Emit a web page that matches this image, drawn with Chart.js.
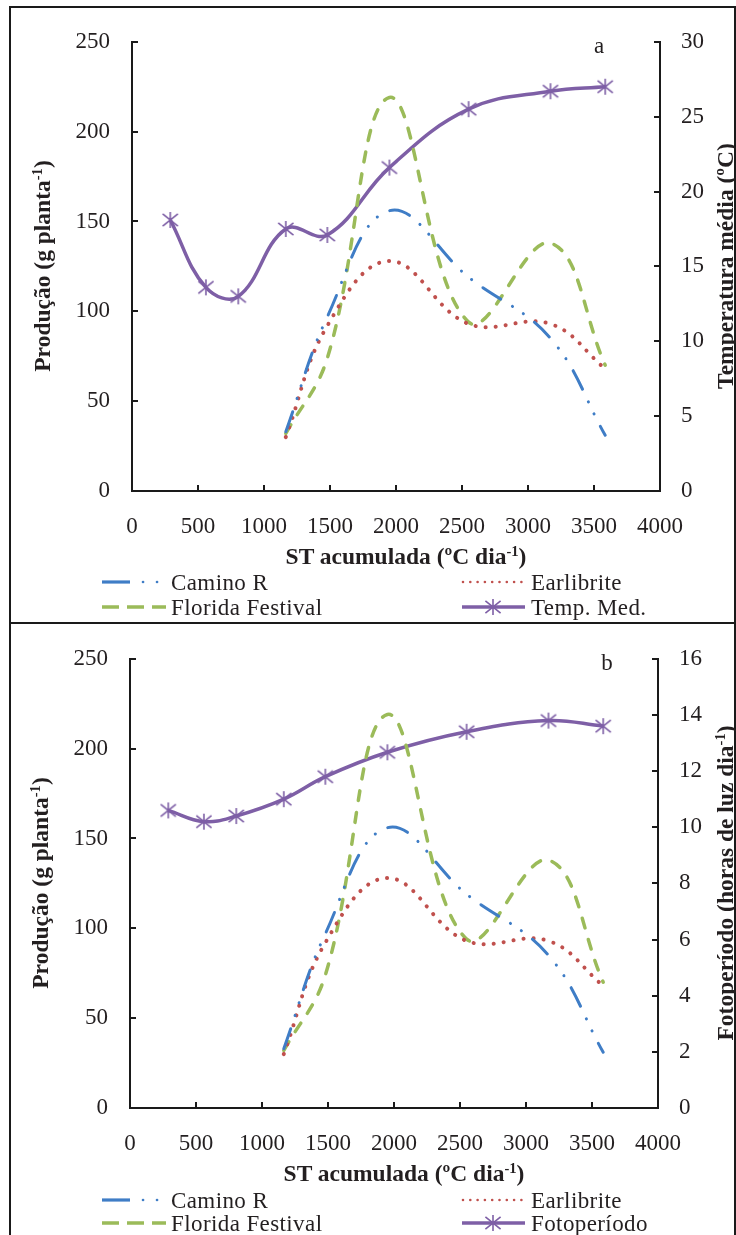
<!DOCTYPE html>
<html><head><meta charset="utf-8">
<script src="https://cdn.jsdelivr.net/npm/chart.js@4.4.1/dist/chart.umd.min.js"></script>
<style>
html,body{margin:0;padding:0;background:#fff;}
#page{position:relative;width:736px;height:1235px;overflow:hidden;background:#fff;font-family:"Liberation Serif","Times New Roman",serif;color:#231f20;}
.frame{position:absolute;border:2px solid #1a1a1a;box-sizing:border-box;}
canvas.ch{position:absolute;left:0;}
.t{position:absolute;white-space:nowrap;line-height:1;}
.b{font-weight:bold;font-size:23.5px;}
.rot{transform:translate(-50%,-50%) rotate(-90deg);}
.ctr{transform:translate(-50%,-50%);}
.lt{font-size:23px;}
sup{font-size:0.62em;vertical-align:0.55em;line-height:0;}
.leg{position:absolute;font-size:23px;letter-spacing:0.4px;line-height:1;white-space:nowrap;transform:translateY(-50%);}
svg.ls{position:absolute;left:0;top:0;overflow:visible;}
</style></head>
<body>
<div id="page">
  <div class="frame" style="left:9px;top:6px;width:727px;height:618px;"></div>
  <div class="frame" style="left:9px;top:622px;width:727px;height:700px;"></div>
  <canvas id="cA" class="ch" width="736" height="622" style="top:0px;"></canvas>
  <canvas id="cB" class="ch" width="736" height="618" style="top:617px;"></canvas>
</div>
<script>
// ---- data ----
const xTickStep = 500;
const tempX = [290, 560, 805, 1165, 1480, 1950, 2550, 3170, 3585];
const tempMed = [18.1, 13.6, 13.0, 17.5, 17.1, 21.6, 25.5, 26.7, 27.0];
const fotoperiodo = [10.6, 10.2, 10.4, 11.0, 11.8, 12.67, 13.4, 13.8, 13.6];
const prodX = [1165, 1480, 1950, 2550, 3170, 3585];
const caminoR = [33, 97, 156, 119, 85, 31];
const earlibrite = [30, 92, 128, 93, 93, 68];
const floridaFestival = [32, 74, 219, 94, 138, 70];
const seriesNames = ['Camino R', 'Earlibrite', 'Florida Festival'];

const BLUE = '#3F7DC6', RED = '#C0504D', GREEN = '#9BBB59', PURPLE = '#7E5FA6';
const INK = '#231f20', AXIS = '#1a1a1a';
const FONT = 'Liberation Serif';

function pts(xs, ys){ return xs.map((x,i)=>({x:x, y:ys[i]})); }

function makeStar(color, size, lw){
  const c = document.createElement('canvas');
  c.width = size; c.height = size;
  const g = c.getContext('2d');
  g.strokeStyle = color; g.lineWidth = lw;
  const m = size/2, r = size/2 - 1;
  g.beginPath();
  g.moveTo(m, m-r); g.lineTo(m, m+r);
  const dx = r*0.95, dy = r*0.78;
  g.moveTo(m-dx, m-dy); g.lineTo(m+dx, m+dy);
  g.moveTo(m-dx, m+dy); g.lineTo(m+dx, m-dy);
  g.stroke();
  return c;
}
const star = makeStar(PURPLE, 18, 1.6);

function makeChart(canvas, cfg){
  const tickFont = {family: FONT, size: 23};
  const plain = v => String(v);
  const axisCommon = (extra) => Object.assign({
    grid:{drawOnChartArea:false, tickLength:-6, color:AXIS, lineWidth:2},
    border:{display:true, color:AXIS, width:2}
  }, extra);
  return new Chart(canvas, {
    type:'line',
    data:{datasets:[
      {label:seriesNames[0], data:pts(prodX, caminoR), borderColor:BLUE, borderWidth:3,
       borderDash:[21,14,0.1,13,0.1,14], borderCapStyle:'round', pointRadius:0, tension:0.4, yAxisID:'y', fill:false},
      {label:seriesNames[1], data:pts(prodX, earlibrite), borderColor:RED, borderWidth:4,
       borderDash:[0.1,10], borderCapStyle:'round', pointRadius:0, tension:0.4, yAxisID:'y', fill:false},
      {label:seriesNames[2], data:pts(prodX, floridaFestival), borderColor:GREEN, borderWidth:3.5,
       borderDash:[10,12], borderCapStyle:'round', pointRadius:0, tension:0.4, yAxisID:'y', fill:false},
      {label:cfg.secName, data:pts(tempX, cfg.secValues), borderColor:PURPLE, borderWidth:3.5,
       pointStyle:star, pointRadius:9, pointBorderColor:PURPLE, tension:0.4, yAxisID:'y1', fill:false}
    ]},
    options:{
      responsive:false, animation:false, devicePixelRatio:1, events:[],
      layout:{padding:{top:41, left:0, right:0, bottom:0}},
      plugins:{legend:{display:false}, tooltip:{enabled:false}},
      scales:{
        x: axisCommon({type:'linear', min:0, max:4000,
           ticks:{stepSize:xTickStep, font:tickFont, color:INK, padding:28, maxRotation:0, callback:plain},
           afterFit:s=>{ s.height = cfg.xHeight; }}),
        y: axisCommon({position:'left', min:0, max:250,
           ticks:{stepSize:50, font:tickFont, color:INK, padding:28, callback:plain},
           afterFit:s=>{ s.width = cfg.leftW; }}),
        y1: axisCommon({position:'right', min:0, max:cfg.rightMax,
           ticks:{stepSize:cfg.rightStep, font:tickFont, color:INK, padding:27, callback:plain},
           afterFit:s=>{ s.width = cfg.rightW; }})
      }
    }
  });
}

makeChart(document.getElementById('cA'), {secName:'Temp. Med.', secValues:tempMed, rightMax:30, rightStep:5,
  leftW:132, rightW:76, xHeight:131});
makeChart(document.getElementById('cB'), {secName:'Fotoperíodo', secValues:fotoperiodo, rightMax:16, rightStep:2,
  leftW:130, rightW:78, xHeight:127});

// ---- text overlays ----
const page = document.getElementById('page');
function addText(html, x, y, cls){
  const d = document.createElement('div');
  d.className = 't ' + cls;
  d.style.left = x + 'px'; d.style.top = y + 'px';
  d.innerHTML = html;
  page.appendChild(d);
}
function addLeg(text, x, y){
  const d = document.createElement('div');
  d.className = 'leg';
  d.style.left = x + 'px'; d.style.top = y + 'px';
  d.textContent = text;
  page.appendChild(d);
}
const NS = 'http://www.w3.org/2000/svg';
const svg = document.createElementNS(NS, 'svg');
svg.setAttribute('class','ls'); svg.setAttribute('width','736'); svg.setAttribute('height','1235');
page.appendChild(svg);
function ln(x1,y1,x2,y2,attrs){
  const l = document.createElementNS(NS,'line');
  l.setAttribute('x1',x1); l.setAttribute('y1',y1); l.setAttribute('x2',x2); l.setAttribute('y2',y2);
  for (const k in attrs) l.setAttribute(k, attrs[k]);
  svg.appendChild(l);
}
function legendStar(cx, cy){
  const r = 8, dx = r*0.95, dy = r*0.78, a = {stroke:PURPLE,'stroke-width':1.6};
  ln(cx, cy-r, cx, cy+r, a);
  ln(cx-dx, cy-dy, cx+dx, cy+dy, a);
  ln(cx-dx, cy+dy, cx+dx, cy-dy, a);
}

function panelText(dy, dx, secName, rightTitle, letter, r1, r2){
  addText('ST acumulada (ºC dia<sup>-1</sup>)', 406+dx, 557+dy, 'b ctr');
  addText('Produção (g planta<sup>-1</sup>)', 43+dx, 266+dy, 'b rot');
  addText(rightTitle, 726, 266+dy, 'b rot');
  addText(letter, 599+dx+ (letter==='b'?10:0), 45+dy, 'lt ctr');
  // legend samples
  ln(102, r1, 130, r1, {stroke:BLUE,'stroke-width':3.2});
  ln(143, r1, 143.1, r1, {stroke:BLUE,'stroke-width':2.6,'stroke-linecap':'round'});
  ln(157, r1, 157.1, r1, {stroke:BLUE,'stroke-width':2.6,'stroke-linecap':'round'});
  ln(102, r2, 166, r2, {stroke:GREEN,'stroke-width':3.5,'stroke-dasharray':'17 8'});
  ln(463, r1, 522, r1, {stroke:RED,'stroke-width':2.6,'stroke-linecap':'round','stroke-dasharray':'0 7.3'});
  ln(462, r2, 525, r2, {stroke:PURPLE,'stroke-width':3.5});
  legendStar(493, r2);
  addLeg(seriesNames[0], 171, r1);
  addLeg(seriesNames[2], 171, r2);
  addLeg(seriesNames[1], 531, r1);
  addLeg(secName, 531, r2);
}
panelText(0, 0, 'Temp. Med.', 'Temperatura média (ºC)', 'a', 582, 607);
panelText(617, -2, 'Fotoperíodo', 'Fotoperíodo (horas de luz dia<sup>-1</sup>)', 'b', 1200, 1223);
</script>
</body></html>
